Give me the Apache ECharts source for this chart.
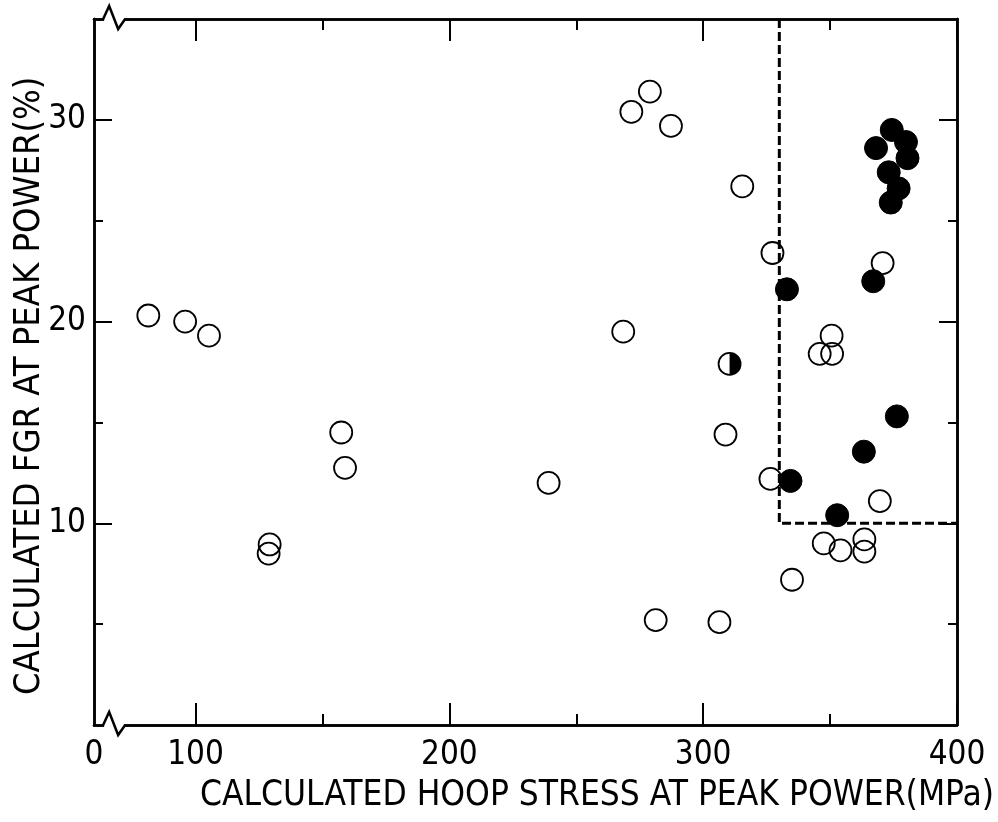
<!DOCTYPE html>
<html>
<head>
<meta charset="utf-8">
<script src="https://cdn.jsdelivr.net/npm/echarts@6.0.0/dist/echarts.min.js"></script>
<style>
  html, body { margin: 0; padding: 0; background: #fff; }
  #chart { width: 998px; height: 822px; }
</style>
</head>
<body>
<div id="chart"></div>
<script>
// open circles [hoop stress MPa, FGR %]
const openPoints = [
  [81.4, 20.3], [95.9, 20.0], [105.3, 19.3], [157.4, 14.5], [158.9, 12.75],
  [129.2, 8.95], [128.8, 8.5], [239.1, 12.0], [279.0, 31.4], [271.7, 30.4],
  [287.3, 29.7], [315.4, 26.7], [327.3, 23.4], [268.5, 19.5], [308.8, 14.4],
  [326.5, 12.2], [350.6, 19.3], [345.9, 18.4], [350.8, 18.4], [369.6, 11.1],
  [347.5, 9.0], [354.1, 8.66], [363.5, 9.2], [363.5, 8.6], [335.0, 7.2],
  [281.3, 5.2], [306.4, 5.1], [370.7, 22.9]
];
// filled circles
const filledPoints = [
  [333.0, 21.6], [334.4, 12.1], [376.3, 15.3], [363.3, 13.55], [352.8, 10.4],
  [367.0, 22.0], [374.3, 29.5], [379.9, 28.9], [368.1, 28.6], [380.5, 28.1],
  [373.1, 27.4], [377.0, 26.6], [373.9, 25.9]
];
// half filled circle
const halfPoints = [[310.4, 17.9]];
// dashed boundary
const boundaryLine = [[330, 35], [330, 10], [400, 10]];

const xMin = 60, xMax = 400;
const yMin = 0, yMax = 35;
const xLabelValues = [60, 100, 200, 300, 400];
const xMajorTicks = [100, 200, 300, 400];
const xMinorTicks = [150, 250, 350];
const yLabelValues = [10, 20, 30];
const yMajorTicks = [10, 20, 30];
const yMinorTicks = [5, 15, 25];
const xBreakAt = 64;

const FONT = '"Liberation Sans Narrow", "DejaVu Sans Condensed", "Liberation Sans", sans-serif';
const INK = '#000';

function xAx(pos, ticks, len, labels) {
  return {
    type: 'value', position: pos, min: xMin, max: xMax,
    axisLine: { show: true, onZero: false, lineStyle: { color: INK, width: 2.5 } },
    axisTick: { show: true, inside: true, length: len, customValues: ticks, lineStyle: { color: INK, width: 2 } },
    axisLabel: labels ? {
      show: true, customValues: labels, margin: 14,
      fontFamily: FONT, fontSize: 33, color: INK,
      formatter: v => (v === xMin ? '0' : String(v))
    } : { show: false },
    splitLine: { show: false }
  };
}
function yAx(pos, ticks, len, labels) {
  return {
    type: 'value', position: pos, min: yMin, max: yMax,
    axisLine: { show: true, onZero: false, lineStyle: { color: INK, width: 2.5 } },
    axisTick: { show: true, inside: true, length: len, customValues: ticks, lineStyle: { color: INK, width: 2 } },
    axisLabel: labels ? {
      show: true, customValues: labels, margin: 8,
      fontFamily: FONT, fontSize: 33, color: INK
    } : { show: false },
    splitLine: { show: false }
  };
}

const chart = echarts.init(document.getElementById('chart'));
chart.setOption({
  backgroundColor: '#fff',
  animation: false,
  grid: { left: 94, right: 41, top: 19, bottom: 97, outerBoundsMode: 'none' },
  xAxis: [
    xAx('bottom', xMajorTicks, 22, xLabelValues),
    xAx('bottom', xMinorTicks, 11, null),
    xAx('top', xMajorTicks, 22, null),
    xAx('top', xMinorTicks, 11, null)
  ],
  yAxis: [
    yAx('left', yMajorTicks, 18, yLabelValues),
    yAx('left', yMinorTicks, 9, null),
    yAx('right', yMajorTicks, 18, null),
    yAx('right', yMinorTicks, 9, null)
  ],
  series: [
    {
      type: 'line', data: boundaryLine, symbol: 'none', z: 1,
      lineStyle: { color: INK, width: 3, type: [9, 4], opacity: 1 }
    },
    {
      type: 'scatter', data: openPoints, symbol: 'circle', symbolSize: 22, z: 2,
      itemStyle: { color: 'rgba(255,255,255,0)', borderColor: INK, borderWidth: 1.8, opacity: 1 }
    },
    {
      type: 'scatter', data: halfPoints, symbol: 'circle', symbolSize: 22, z: 2,
      itemStyle: { color: '#fff', borderColor: INK, borderWidth: 1.8, opacity: 1 }
    },
    {
      type: 'scatter', data: halfPoints, symbol: 'path://M0,0 A10,10 0 0 1 0,20 Z',
      symbolSize: [11, 22], symbolOffset: [5.5, 0], z: 3,
      itemStyle: { color: INK, opacity: 1 }
    },
    {
      type: 'scatter', data: filledPoints, symbol: 'circle', symbolSize: 23, z: 4,
      itemStyle: { color: INK, borderColor: INK, borderWidth: 1, opacity: 1 }
    }
  ]
});

// axis break marks and axis titles
const bx = chart.convertToPixel({ xAxisIndex: 0 }, xBreakAt);
const yTop = chart.convertToPixel({ yAxisIndex: 0 }, yMax);
const yBot = chart.convertToPixel({ yAxisIndex: 0 }, yMin);
function zigzag(y) {
  return [
    { type: 'rect', shape: { x: bx, y: y - 3, width: 20, height: 6 }, style: { fill: '#fff' }, z: 100 },
    {
      type: 'polyline', z: 101,
      shape: { points: [[bx - 1, y], [bx + 5, y - 13], [bx + 14, y + 10], [bx + 21, y]] },
      style: { stroke: INK, lineWidth: 2.5, fill: null }
    }
  ];
}
chart.setOption({
  graphic: [
    ...zigzag(yTop),
    ...zigzag(yBot),
    {
      type: 'text', left: 200, top: 778, z: 100,
      style: { text: 'CALCULATED HOOP STRESS AT PEAK POWER(MPa)', font: '35px ' + FONT, fill: INK }
    },
    {
      type: 'text', x: 12, y: 695, rotation: Math.PI / 2, z: 100,
      style: { text: 'CALCULATED FGR AT PEAK POWER(%)', font: '36px ' + FONT, fill: INK }
    }
  ]
});
</script>
</body>
</html>
